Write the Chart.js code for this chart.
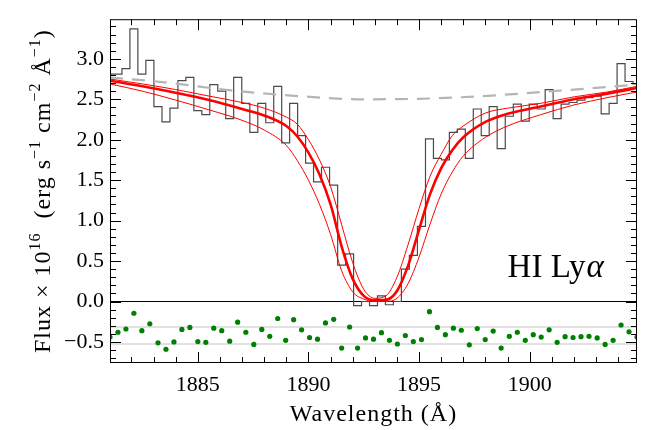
<!DOCTYPE html>
<html>
<head>
<meta charset="utf-8">
<script src="https://cdn.jsdelivr.net/npm/chart.js@4.4.0/dist/chart.umd.min.js"></script>
<style>
  html, body { margin: 0; padding: 0; background: #fff; }
  #wrap { width: 645px; height: 430px; position: relative; }
</style>
</head>
<body>
<div id="wrap"><canvas id="myChart"></canvas></div>
<script>
// binned spectrum (bin centres, Angstrom) and flux in 1e-16 units
const wave = [1881.03, 1881.39, 1881.75, 1882.11, 1882.47, 1882.83, 1883.20, 1883.56, 1883.92, 1884.28,
              1884.64, 1885.00, 1885.36, 1885.72, 1886.08, 1886.44, 1886.80, 1887.17, 1887.53, 1887.89,
              1888.25, 1888.61, 1888.97, 1889.33, 1889.69, 1890.05, 1890.41, 1890.77, 1891.14, 1891.50,
              1891.86, 1892.22, 1892.58, 1892.94, 1893.30, 1893.66, 1894.02, 1894.38, 1894.74, 1895.11,
              1895.47, 1895.83, 1896.19, 1896.55, 1896.91, 1897.27, 1897.63, 1897.99, 1898.35, 1898.71,
              1899.08, 1899.44, 1899.80, 1900.16, 1900.52, 1900.88, 1901.24, 1901.60, 1901.96, 1902.32,
              1902.68, 1903.05, 1903.41, 1903.77, 1904.13, 1904.49, 1904.85];
const flux = [2.81, 2.81, 2.88, 3.37, 2.81, 2.98, 2.41, 2.22, 2.39, 2.73,
              2.77, 2.36, 2.31, 2.68, 2.60, 2.26, 2.77, 2.45, 2.09, 2.45,
              2.21, 2.66, 1.96, 2.45, 2.05, 1.71, 1.48, 1.66, 1.44, 0.45,
              0.59, -0.05, 0.00, -0.05, 0.07, -0.04, 0.00, 0.40, 0.57, 0.93,
              2.01, 1.77, 1.75, 2.09, 2.13, 1.77, 2.38, 2.05, 2.41, 1.89,
              2.29, 2.44, 2.23, 2.44, 2.38, 2.62, 2.26, 2.44, 2.46, 2.49,
              2.52, 2.54, 2.32, 2.45, 2.94, 2.72, 2.69];
// residuals, shown shifted below zero
const resid = [-0.44, -0.38, -0.34, -0.145, -0.36, -0.275, -0.51, -0.59, -0.50, -0.345,
               -0.32, -0.495, -0.505, -0.33, -0.36, -0.49, -0.255, -0.38, -0.53, -0.345,
               -0.43, -0.21, -0.48, -0.225, -0.35, -0.445, -0.465, -0.265, -0.22, -0.575,
               -0.315, -0.575, -0.45, -0.465, -0.385, -0.48, -0.525, -0.42, -0.495, -0.47,
               -0.125, -0.32, -0.41, -0.33, -0.355, -0.535, -0.335, -0.47, -0.365, -0.575,
               -0.43, -0.38, -0.48, -0.41, -0.44, -0.35, -0.505, -0.435, -0.445, -0.435,
               -0.43, -0.45, -0.53, -0.48, -0.29, -0.375, -0.44];

// Lya profile fit: best and the two bounding models
const modelWave = [1881.03, 1882.5, 1884, 1885.5, 1887, 1888, 1889, 1889.5, 1890, 1890.5,
                   1891, 1891.5, 1892, 1892.5, 1893, 1893.5, 1894, 1894.5, 1895, 1895.5,
                   1896, 1896.5, 1897, 1898, 1899, 1900.5, 1902, 1903.5, 1904.85];
const modelBest = [2.73, 2.66, 2.58, 2.49, 2.38, 2.30, 2.17, 2.04, 1.84, 1.57,
                   1.20, 0.68, 0.28, 0.07, 0.015, 0.02, 0.13, 0.44, 0.89, 1.33,
                   1.65, 1.87, 2.03, 2.22, 2.32, 2.41, 2.50, 2.57, 2.64];
const modelHigh = [2.75, 2.69, 2.62, 2.54, 2.46, 2.39, 2.28, 2.19, 2.00, 1.75,
                   1.42, 0.95, 0.48, 0.15, 0.04, 0.07, 0.30, 0.70, 1.15, 1.55,
                   1.82, 2.05, 2.17, 2.33, 2.39, 2.45, 2.53, 2.59, 2.66];
const modelLow = [2.69, 2.60, 2.49, 2.37, 2.24, 2.12, 1.93, 1.74, 1.50, 1.20,
                  0.83, 0.38, 0.12, 0.03, 0.00, 0.00, 0.04, 0.22, 0.55, 0.96,
                  1.33, 1.60, 1.80, 2.03, 2.17, 2.31, 2.43, 2.52, 2.59];

// intrinsic continuum
const contWave = [1881.03, 1883.5, 1886.5, 1889.5, 1892.5, 1895.5, 1898.5, 1901.5, 1904.85];
const contFlux = [2.77, 2.71, 2.61, 2.54, 2.50, 2.51, 2.55, 2.61, 2.68];

const xTicks = [1885, 1890, 1895, 1900];
const yTicks = [-0.5, 0, 0.5, 1, 1.5, 2, 2.5, 3];
const residBand = [-0.315, -0.525];

const labelWave = 1899.0;
const labelFlux = 0.30;

function pts(xs, ys) {
    return xs.map((x, i) => ({ x: x, y: ys[i] }));
}

const serif = '"Liberation Serif", serif';

// frame, inward ticks, axis titles and the line label
const decor = {
    id: 'decor',
    beforeDatasetsDraw(chart) {
        const { ctx, chartArea: a, scales: { y } } = chart;
        ctx.save();
        ctx.lineWidth = 1.2;
        ctx.strokeStyle = '#c4c4c4';
        residBand.forEach(v => {
            let py = y.getPixelForValue(v);
            ctx.beginPath(); ctx.moveTo(a.left, py); ctx.lineTo(a.right, py); ctx.stroke();
        });
        ctx.strokeStyle = '#000';
        ctx.lineWidth = 1.1;
        let y0 = y.getPixelForValue(0);
        ctx.beginPath(); ctx.moveTo(a.left, y0); ctx.lineTo(a.right, y0); ctx.stroke();
        ctx.restore();
    },
    afterDraw(chart) {
        const { ctx, chartArea: a, scales: { x, y } } = chart;
        ctx.save();
        ctx.strokeStyle = '#000';
        ctx.lineWidth = 1;
        ctx.strokeRect(a.left + 0.5, a.top + 0.5, a.width - 1, a.height - 1);

        // x ticks every 1 A, major every 5
        for (let k = Math.ceil(x.min); k <= Math.floor(x.max); k++) {
            let len = (k % 5 === 0) ? 11 : 6;
            let px = Math.round(x.getPixelForValue(k)) + 0.5;
            ctx.beginPath();
            ctx.moveTo(px, a.bottom); ctx.lineTo(px, a.bottom - len);
            ctx.moveTo(px, a.top); ctx.lineTo(px, a.top + len);
            ctx.stroke();
        }
        // y ticks every 0.1, major every 0.5
        for (let k = Math.ceil(y.min * 10); k <= Math.floor(y.max * 10); k++) {
            let len = (k % 5 === 0) ? 11 : 6;
            let py = Math.round(y.getPixelForValue(k / 10)) + 0.5;
            ctx.beginPath();
            ctx.moveTo(a.left, py); ctx.lineTo(a.left + len, py);
            ctx.moveTo(a.right, py); ctx.lineTo(a.right - len, py);
            ctx.stroke();
        }

        ctx.fillStyle = '#000';
        ctx.textBaseline = 'alphabetic';
        ctx.letterSpacing = '1px';

        // x title
        ctx.font = '24px ' + serif;
        ctx.textAlign = 'center';
        ctx.fillText('Wavelength (\u00c5)', (a.left + a.right) / 2, 421);

        // y title with superscripts
        const segs = [
            { t: 'Flux \u00d7 10' }, { t: '16', s: 1 }, { t: '  (erg s' }, { t: '\u22121', s: 1 },
            { t: ' cm' }, { t: '\u22122', s: 1 }, { t: ' \u00c5' }, { t: '\u22121', s: 1 }, { t: ')' }
        ];
        const mainFont = '24px ' + serif, supFont = '16px ' + serif;
        let total = 0;
        segs.forEach(sg => { ctx.font = sg.s ? supFont : mainFont; sg.w = ctx.measureText(sg.t).width; total += sg.w; });
        ctx.translate(50, (a.top + a.bottom) / 2);
        ctx.rotate(-Math.PI / 2);
        ctx.textAlign = 'left';
        let cx = -total / 2;
        segs.forEach(sg => {
            ctx.font = sg.s ? supFont : mainFont;
            ctx.fillText(sg.t, cx, sg.s ? -10 : 0);
            cx += sg.w;
        });
        ctx.restore();

        // line label
        ctx.save();
        ctx.fillStyle = '#000';
        ctx.textAlign = 'left';
        ctx.textBaseline = 'alphabetic';
        let lx = x.getPixelForValue(labelWave), ly = y.getPixelForValue(labelFlux);
        ctx.font = '33px ' + serif;
        ctx.fillText('HI Ly', lx, ly);
        let w = ctx.measureText('HI Ly').width;
        ctx.font = 'italic 33px ' + serif;
        ctx.fillText('\u03b1', lx + w + 1, ly);
        ctx.restore();
    }
};

const ctx = document.getElementById('myChart');
const chart = new Chart(ctx, {
    type: 'line',
    data: {
        datasets: [
            {
                label: 'best fit',
                data: pts(modelWave, modelBest),
                borderColor: '#ff0000',
                borderWidth: 2.6,
                pointRadius: 0,
                cubicInterpolationMode: 'monotone',
                fill: false
            },
            {
                label: 'upper',
                data: pts(modelWave, modelHigh),
                borderColor: '#ff0000',
                borderWidth: 1,
                pointRadius: 0,
                cubicInterpolationMode: 'monotone',
                fill: false
            },
            {
                label: 'lower',
                data: pts(modelWave, modelLow),
                borderColor: '#ff0000',
                borderWidth: 1,
                pointRadius: 0,
                cubicInterpolationMode: 'monotone',
                fill: false
            },
            {
                label: 'residuals',
                data: pts(wave, resid),
                showLine: false,
                pointRadius: 2.6,
                pointBackgroundColor: '#008000',
                pointBorderWidth: 0
            },
            {
                label: 'continuum',
                data: pts(contWave, contFlux),
                borderColor: '#b5b5b5',
                borderWidth: 2.2,
                borderDash: [13, 9],
                pointRadius: 0,
                cubicInterpolationMode: 'monotone',
                fill: false
            },
            {
                label: 'data',
                data: pts(wave, flux),
                stepped: 'middle',
                borderColor: '#4a4a4a',
                borderWidth: 1.2,
                pointRadius: 0,
                fill: false
            }
        ]
    },
    options: {
        responsive: true,
        maintainAspectRatio: false,
        animation: false,
        layout: { padding: { top: 5, right: 8, left: 0, bottom: 0 } },
        scales: {
            x: {
                type: 'linear',
                min: 1881.03,
                max: 1904.85,
                grid: { display: false, drawTicks: false },
                border: { display: false },
                afterBuildTicks: s => { s.ticks = xTicks.map(v => ({ value: v })); },
                afterFit: s => { s.height = 67; },
                ticks: {
                    color: '#000',
                    font: { family: serif, size: 22 },
                    padding: 9,
                    maxRotation: 0,
                    autoSkip: false,
                    callback: v => String(v)
                }
            },
            y: {
                min: -0.76,
                max: 3.49,
                grid: { display: false, drawTicks: false },
                border: { display: false },
                afterBuildTicks: s => { s.ticks = yTicks.map(v => ({ value: v })); },
                afterFit: s => { s.width = 110; },
                ticks: {
                    color: '#000',
                    font: { family: serif, size: 22 },
                    padding: 6,
                    autoSkip: false,
                    callback: v => (v < 0 ? '\u2212' : '') + Math.abs(v).toFixed(1)
                }
            }
        },
        plugins: {
            legend: { display: false },
            tooltip: { enabled: false }
        }
    },
    plugins: [decor]
});
</script>
</body>
</html>
